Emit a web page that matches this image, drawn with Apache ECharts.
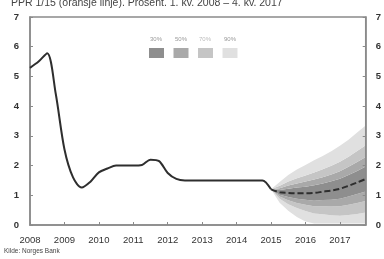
<!DOCTYPE html>
<html>
<head>
<meta charset="utf-8">
<script src="https://cdn.jsdelivr.net/npm/echarts@6/dist/echarts.min.js"></script>
<style>
  html, body { margin: 0; padding: 0; background: #fff; }
  #chart { width: 384px; height: 259px; }
</style>
</head>
<body>
<div id="chart"></div>
<script>
// quarter positions: 2008 Q1 = 2008.00, Q2 = 2008.25 ...
const yearTicks = [2008, 2009, 2010, 2011, 2012, 2013, 2014, 2015, 2016, 2017]
const bandNames = ['30%', '50%', '70%', '90%']

// key policy rate, 2008 Q1 - 2015 Q1
const history = [5.29, 5.5, 5.78, 4.4, 2.55, 1.6, 1.26, 1.45, 1.77, 1.9, 2.0, 2.0,
  2.0, 2.02, 2.2, 2.15, 1.75, 1.55, 1.5, 1.5, 1.5, 1.5, 1.5, 1.5,
  1.5, 1.5, 1.5, 1.5, 1.2]

// forecast PPR 1/15, 2015 Q1 - 2017 Q4
const forecast = [1.2, 1.1, 1.08, 1.07, 1.07, 1.08, 1.12, 1.16, 1.22, 1.32, 1.43, 1.55]
const lower90 = [1.2, 0.75, 0.48, 0.27, 0.12, 0.05, 0.05, 0.05, 0.05, 0.05, 0.05, 0.05]
const lower70 = [1.2, 0.88, 0.70, 0.57, 0.47, 0.39, 0.36, 0.33, 0.31, 0.34, 0.37, 0.42]
const lower50 = [1.2, 0.96, 0.83, 0.74, 0.68, 0.63, 0.63, 0.62, 0.63, 0.68, 0.74, 0.81]
const lower30 = [1.2, 1.02, 0.94, 0.88, 0.85, 0.82, 0.84, 0.85, 0.88, 0.96, 1.04, 1.13]
const upper30 = [1.2, 1.18, 1.22, 1.26, 1.29, 1.34, 1.40, 1.47, 1.56, 1.68, 1.82, 1.97]
const upper50 = [1.2, 1.24, 1.33, 1.40, 1.46, 1.53, 1.61, 1.70, 1.81, 1.96, 2.12, 2.29]
const upper70 = [1.2, 1.32, 1.46, 1.57, 1.67, 1.77, 1.88, 1.99, 2.13, 2.30, 2.49, 2.68]
const upper90 = [1.2, 1.45, 1.68, 1.87, 2.02, 2.18, 2.32, 2.48, 2.67, 2.87, 3.11, 3.35]

const bandColors = { '30%': '#8e8e8e', '50%': '#a9a9a9', '70%': '#c5c5c5', '90%': '#e0e0e0' }

const qx = (start, i) => start + i / 4
const histData = history.map((v, i) => [qx(2008, i), v])
const fcData = forecast.map((v, i) => [qx(2015, i), v])

// fan: stacked layers (value first so the stack runs on y)
function layer(top, bottom) {
  return top.map((v, i) => [+(v - (bottom ? bottom[i] : 0)).toFixed(3), qx(2015, i)])
}
function bandSeries(name, data, color) {
  return {
    name: name,
    type: 'line',
    stack: 'fan',
    data: data,
    encode: { x: 1, y: 0 },
    symbol: 'none',
    silent: true,
    lineStyle: { width: 0 },
    itemStyle: { color: color || 'transparent' },
    areaStyle: color ? { color: color, opacity: 1 } : undefined,
    z: 1
  }
}

const chart = echarts.init(document.getElementById('chart'))

const labelFont = 'Liberation Sans, Arial, sans-serif'
const axisGray = '#8a8a8a'

const option = {
  animation: false,
  textStyle: { fontFamily: labelFont },
  grid: {
    left: 30,
    right: 14,
    top: 17,
    bottom: 34,
    show: true,
    z: 4,
    borderColor: axisGray,
    borderWidth: 1.5
  },
  title: {
    text: 'PPR 1/15 (oransje linje). Prosent. 1. kv. 2008 – 4. kv. 2017',
    left: 11,
    top: -2,
    padding: 0,
    textStyle: { fontSize: 10.5, fontWeight: 'normal', color: '#444', fontFamily: labelFont }
  },
  legend: {
    data: bandNames,
    left: 149,
    top: 48,
    padding: 0,
    icon: 'rect',
    itemWidth: 15,
    itemHeight: 10,
    itemGap: 9.5,
    formatter: function () { return '' },
    selectedMode: false
  },
  graphic: [
    { type: 'text', left: 150, top: 36, style: { text: '30%', fontSize: 6, fill: '#999', fontFamily: labelFont } },
    { type: 'text', left: 175, top: 36, style: { text: '50%', fontSize: 6, fill: '#999', fontFamily: labelFont } },
    { type: 'text', left: 199, top: 36, style: { text: '70%', fontSize: 6, fill: '#bbb', fontFamily: labelFont } },
    { type: 'text', left: 224, top: 36, style: { text: '90%', fontSize: 6, fill: '#999', fontFamily: labelFont } },
    { type: 'text', left: 4, top: 248, style: { text: 'Kilde: Norges Bank', fontSize: 6.5, fill: '#444', fontFamily: labelFont } }
  ],
  xAxis: {
    type: 'value',
    min: 2008,
    max: 2017.75,
    interval: 1,
    z: 4,
    splitLine: { show: false },
    axisLine: { show: true, lineStyle: { color: axisGray, width: 1.5 } },
    axisTick: { show: true, inside: true, length: 3, lineStyle: { color: axisGray } },
    axisLabel: {
      color: '#333',
      fontSize: 9.5,
      margin: 10,
      showMaxLabel: false,
      formatter: function (v) { return yearTicks.indexOf(v) >= 0 ? String(v) : '' }
    }
  },
  yAxis: [
    {
      type: 'value',
      min: 0,
      max: 7,
      interval: 1,
      z: 4,
      splitLine: { show: false },
      axisLine: { show: true, lineStyle: { color: axisGray, width: 1.5 } },
      axisTick: { show: true, inside: true, length: 3, lineStyle: { color: axisGray } },
      axisLabel: { color: '#333', fontSize: 9.5, fontWeight: 'bold', margin: 11 }
    },
    {
      type: 'value',
      position: 'right',
      min: 0,
      max: 7,
      interval: 1,
      z: 4,
      splitLine: { show: false },
      axisLine: { show: true, lineStyle: { color: axisGray, width: 1.5 } },
      axisTick: { show: true, inside: true, length: 3, lineStyle: { color: axisGray } },
      axisLabel: { color: '#333', fontSize: 9.5, fontWeight: 'bold', margin: 10 }
    }
  ],
  series: [
    bandSeries('base', layer(lower90), null),
    bandSeries('90%', layer(lower70, lower90), bandColors['90%']),
    bandSeries('70%', layer(lower50, lower70), bandColors['70%']),
    bandSeries('50%', layer(lower30, lower50), bandColors['50%']),
    bandSeries('30%', layer(upper30, lower30), bandColors['30%']),
    bandSeries('50%', layer(upper50, upper30), bandColors['50%']),
    bandSeries('70%', layer(upper70, upper50), bandColors['70%']),
    bandSeries('90%', layer(upper90, upper70), bandColors['90%']),
    {
      name: 'Styringsrente',
      type: 'line',
      data: histData,
      symbol: 'none',
      smooth: 0.3,
      lineStyle: { color: '#2e2e2e', width: 2 },
      z: 5
    },
    {
      name: 'PPR 1/15',
      type: 'line',
      data: fcData,
      symbol: 'none',
      smooth: 0.3,
      lineStyle: { color: '#2e2e2e', width: 2, type: [6, 3] },
      z: 5
    }
  ]
}

chart.setOption(option)
</script>
</body>
</html>
